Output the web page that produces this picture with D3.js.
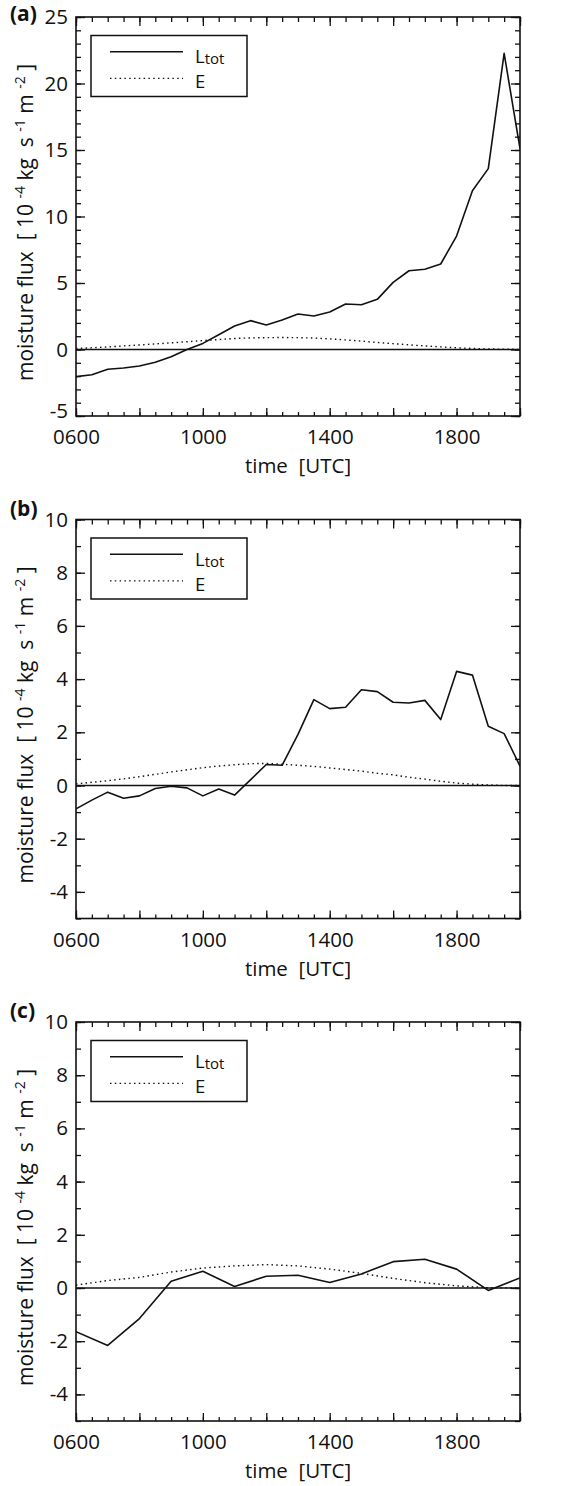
<!DOCTYPE html>
<html>
<head>
<meta charset="utf-8">
<script src="https://cdn.jsdelivr.net/npm/d3@7"></script>
<style>
  body { margin: 0; background: #fff; }
  svg text { font-family: "Open Sans", sans-serif; fill: #111; }
</style>
</head>
<body>
<div id="chart"></div>
<script>

// time in decimal hours (UTC)
var timeHalfHour = [6, 6.5, 7, 7.5, 8, 8.5, 9, 9.5, 10, 10.5, 11, 11.5, 12, 12.5, 13,
  13.5, 14, 14.5, 15, 15.5, 16, 16.5, 17, 17.5, 18, 18.5, 19, 19.5, 20];
var timeHourly = [6, 7, 8, 9, 10, 11, 12, 13, 14, 15, 16, 17, 18, 19, 20];

// moisture flux, 10^-4 kg s^-1 m^-2
var ltotA = [-2.04, -1.90, -1.49, -1.39, -1.24, -0.96, -0.54, 0.0, 0.46, 1.11, 1.77, 2.17, 1.84, 2.22, 2.67,
  2.52, 2.82, 3.42, 3.37, 3.77, 5.05, 5.92, 6.03, 6.43, 8.53, 11.94, 13.6, 22.27, 15.1];
var eA = [0.08, 0.13, 0.19, 0.27, 0.34, 0.42, 0.50, 0.58, 0.67, 0.75, 0.83, 0.87, 0.89, 0.90, 0.89,
  0.86, 0.80, 0.72, 0.63, 0.53, 0.44, 0.35, 0.27, 0.20, 0.13, 0.08, 0.04, 0.02, 0.01];

var ltotB = [-0.88, -0.55, -0.25, -0.48, -0.39, -0.11, -0.03, -0.09, -0.39, -0.13, -0.36, 0.21, 0.79, 0.76, 1.92,
  3.23, 2.89, 2.94, 3.60, 3.53, 3.13, 3.10, 3.20, 2.48, 4.29, 4.15, 2.23, 1.95, 0.73];
var eB = [0.06, 0.12, 0.18, 0.25, 0.33, 0.42, 0.51, 0.59, 0.67, 0.73, 0.78, 0.82, 0.83, 0.80, 0.76,
  0.72, 0.66, 0.60, 0.54, 0.46, 0.40, 0.31, 0.24, 0.16, 0.09, 0.05, 0.02, 0.0, 0.0];

var ltotC = [-1.64, -2.16, -1.15, 0.25, 0.63, 0.06, 0.44, 0.48, 0.21, 0.53, 0.99, 1.08, 0.71, -0.09, 0.38];
var eC = [0.11, 0.28, 0.40, 0.60, 0.75, 0.83, 0.88, 0.83, 0.71, 0.55, 0.36, 0.20, 0.08, 0.01, 0.0];

var panelLabels = ["(a)", "(b)", "(c)"];
var yDomains = [[-5, 25], [-5, 10], [-5, 10]];
var yMajorSteps = [5, 2, 2];
var xTickValues = [6, 10, 14, 18];
var xTickLabels = ["0600", "1000", "1400", "1800"];

var panels = [
  { label: panelLabels[0], t: timeHalfHour, ltot: ltotA, e: eA, yDomain: yDomains[0], yStep: yMajorSteps[0] },
  { label: panelLabels[1], t: timeHalfHour, ltot: ltotB, e: eB, yDomain: yDomains[1], yStep: yMajorSteps[1] },
  { label: panelLabels[2], t: timeHourly, ltot: ltotC, e: eC, yDomain: yDomains[2], yStep: yMajorSteps[2] }
];

// SETUP
const width = 563, height = 1486;
const margin = { left: 76, right: 43 };
const plotW = width - margin.left - margin.right;
const plotH = 399;
const panelTops = [17, 519.5, 1022];
const fontSize = 20.5;

const svg = d3.select("#chart")
  .append("svg")
  .attr("width", width)
  .attr("height", height);

const x = d3.scaleLinear().domain([6, 20]).range([0, plotW]);
const xMinor = d3.range(6, 20.01, 0.5);
const xMajor = d3.range(6, 20.01, 2);

function styleAxis(sel) {
  sel.select(".domain").remove();
  sel.selectAll(".tick line").attr("stroke", "#111").attr("stroke-width", 1.3);
  sel.selectAll("text").attr("font-family", "Open Sans").attr("font-size", fontSize).attr("fill", "#111");
}

function drawPanel(p, top, i) {
  const g = svg.append("g").attr("transform", `translate(${margin.left},${top})`);
  const y = d3.scaleLinear().domain(p.yDomain).range([plotH, 0]);

  const yMinor = d3.range(p.yDomain[0], p.yDomain[1] + 0.01, 1);
  const yMajor = yMinor.filter(v => v % p.yStep == 0);

  // y axes, ticks pointing inward
  g.append("g").call(d3.axisLeft(y).tickValues(yMinor).tickSize(-5).tickFormat("")).call(styleAxis);
  g.append("g")
    .call(d3.axisLeft(y).tickValues(yMajor).tickSize(-9).tickPadding(8).tickFormat(d => String(d)))
    .call(styleAxis)
    .selectAll("text")
    .filter(d => d == p.yDomain[0])
    .attr("y", -5);
  g.append("g").attr("transform", `translate(${plotW},0)`)
    .call(d3.axisRight(y).tickValues(yMinor).tickSize(-5).tickFormat("")).call(styleAxis);
  g.append("g").attr("transform", `translate(${plotW},0)`)
    .call(d3.axisRight(y).tickValues(yMajor).tickSize(-9).tickFormat("")).call(styleAxis);

  // x axes
  g.append("g").call(d3.axisTop(x).tickValues(xMinor).tickSize(-5).tickFormat("")).call(styleAxis);
  g.append("g").call(d3.axisTop(x).tickValues(xMajor).tickSize(-9).tickFormat("")).call(styleAxis);
  g.append("g").attr("transform", `translate(0,${plotH})`)
    .call(d3.axisBottom(x).tickValues(xMinor).tickSize(-4).tickFormat("")).call(styleAxis);
  g.append("g").attr("transform", `translate(0,${plotH})`)
    .call(d3.axisBottom(x).tickValues(xMajor).tickSize(-8).tickFormat(d => {
      const k = xTickValues.indexOf(d);
      return k < 0 ? "" : xTickLabels[k];
    }))
    .call(styleAxis)
    .selectAll("text").attr("y", 28).attr("dy", null);

  // frame
  g.append("rect")
    .attr("width", plotW).attr("height", plotH)
    .attr("fill", "none").attr("stroke", "#111").attr("stroke-width", 1.6);

  // zero line
  g.append("line")
    .attr("x1", x(6)).attr("x2", x(20))
    .attr("y1", y(0)).attr("y2", y(0))
    .attr("stroke", "#111").attr("stroke-width", 1.6);

  const clipId = "clip" + i;
  g.append("clipPath").attr("id", clipId)
    .append("rect").attr("width", plotW).attr("height", plotH);

  const line = d3.line().x(d => x(d[0])).y(d => y(d[1]));

  g.append("path")
    .datum(p.t.map((t, k) => [t, p.e[k]]))
    .attr("clip-path", `url(#${clipId})`)
    .attr("d", line)
    .attr("fill", "none").attr("stroke", "#111")
    .attr("stroke-width", 1.4).attr("stroke-dasharray", "1.5,3.3");

  g.append("path")
    .datum(p.t.map((t, k) => [t, p.ltot[k]]))
    .attr("clip-path", `url(#${clipId})`)
    .attr("d", line)
    .attr("fill", "none").attr("stroke", "#111")
    .attr("stroke-width", 1.6).attr("stroke-linejoin", "round");

  // legend
  const lg = g.append("g").attr("transform", "translate(15,18.5)");
  lg.append("rect").attr("width", 156).attr("height", 61)
    .attr("fill", "#fff").attr("stroke", "#111").attr("stroke-width", 1.5);
  lg.append("line").attr("x1", 19).attr("x2", 92).attr("y1", 16.2).attr("y2", 16.2)
    .attr("stroke", "#111").attr("stroke-width", 1.6);
  lg.append("line").attr("x1", 19).attr("x2", 92).attr("y1", 42.8).attr("y2", 42.8)
    .attr("stroke", "#111").attr("stroke-width", 1.3).attr("stroke-dasharray", "1.5,3.3");
  const lt = lg.append("text").attr("x", 104).attr("y", 27.5)
    .attr("font-family", "Liberation Sans").attr("font-size", 18.5);
  lt.append("tspan").text("L");
  lt.append("tspan").attr("font-size", 15).attr("dy", 1).text("tot");
  lg.append("text").attr("x", 104).attr("y", 52.5)
    .attr("font-family", "Liberation Sans").attr("font-size", 18.5).text("E");

  // axis titles
  g.append("text")
    .attr("x", plotW / 2).attr("y", plotH + 57)
    .attr("text-anchor", "middle").attr("font-size", fontSize)
    .text("time  [UTC]")
    .style("white-space", "pre");

  const yl = g.append("text")
    .attr("transform", `translate(${33 - margin.left},${plotH / 2 + 6}) rotate(-90)`)
    .attr("text-anchor", "middle").attr("font-size", 21)
    .style("white-space", "pre");
  yl.append("tspan").text("moisture flux  [ 10 ");
  yl.append("tspan").attr("font-size", 14).attr("dy", -8).text("-4");
  yl.append("tspan").attr("dy", 8).text(" kg  s ");
  yl.append("tspan").attr("font-size", 14).attr("dy", -8).text("-1");
  yl.append("tspan").attr("dy", 8).text(" m ");
  yl.append("tspan").attr("font-size", 14).attr("dy", -8).text("-2");
  yl.append("tspan").attr("dy", 8).text(" ]");

  // panel letter
  svg.append("text")
    .attr("x", 10).attr("y", Math.max(top - 4, 21))
    .attr("font-size", 21).attr("font-weight", "bold")
    .text(p.label);
}

panels.forEach((p, i) => drawPanel(p, panelTops[i], i));

</script>
</body>
</html>
